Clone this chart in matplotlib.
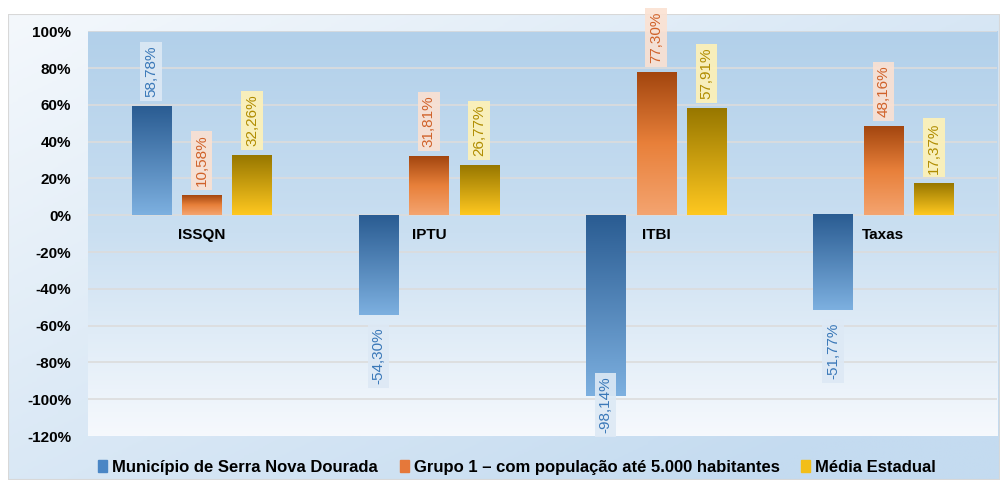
import numpy as np
import matplotlib.pyplot as plt
from matplotlib.colors import LinearSegmentedColormap
from matplotlib.patches import Patch

plt.rcParams['font.family'] = ['Liberation Sans', 'DejaVu Sans']

# dados
categorias = ['ISSQN', 'IPTU', 'ITBI', 'Taxas']
municipio = [58.78, -54.30, -98.14, -51.77]
grupo1 = [10.58, 31.81, 77.30, 48.16]
media_estadual = [32.26, 26.77, 57.91, 17.37]
series_nomes = ['Município de Serra Nova Dourada',
                'Grupo 1 – com população até 5.000 habitantes',
                'Média Estadual']

# cores: (topo escuro, base clara), cor do texto, cor da caixa
grad_cores = [('#2a5c92', '#7db0e0'), ('#a3460f', '#e8803a', '#f4a470'), ('#977700', '#ffc820')]
texto_cores = ['#3a78b8', '#d0622a', '#b08c00']
caixa_cores = ['#dde9f5', '#fbe1d2', '#fff2b6']
legenda_cores = ['#4a86c5', '#e5783a', '#f2be18']

fig = plt.figure(figsize=(10.04, 4.87), dpi=100)
fig.patch.set_facecolor('white')

# moldura externa com degrade
moldura = fig.add_axes([0.008, 0.0144, 0.988, 0.957])
moldura.set_axis_off()
gx = np.linspace(0, 1, 200)[None, :]
gy = np.linspace(0, 1, 200)[:, None]
fundo = np.clip(0.55 * gy + 0.6 * gx, 0, 1)
cm_fundo = LinearSegmentedColormap.from_list('f', ['#f4f8fc', '#c4dbf0'])
moldura.imshow(fundo, cmap=cm_fundo, extent=[0, 1, 0, 1], aspect='auto', origin='upper')
moldura.add_patch(plt.Rectangle((0, 0), 1, 1, transform=moldura.transAxes,
                                fill=False, ec='#d8d8d8', lw=1.5))
moldura.set_xlim(0, 1)
moldura.set_ylim(0, 1)

ax = fig.add_axes([0.0876, 0.1047, 0.9054, 0.831])
ax.set_facecolor('none')
ax.set_xlim(-0.5, len(categorias) - 0.5)
ax.set_ylim(-120, 100)

# fundo da area do grafico
cm_area = LinearSegmentedColormap.from_list('a', ['#b2d0ea', '#cadff1', '#f6f9fd'])
ax.imshow(np.linspace(0, 1, 256)[:, None], cmap=cm_area, aspect='auto',
          extent=[-0.5, len(categorias) - 0.5, -120, 100], origin='upper', zorder=0)

for yv in range(-100, 101, 20):
    ax.axhline(yv, color='#dcdcdc', lw=1.2, zorder=1)

largura = 0.172
passo = 0.222
x = np.arange(len(categorias))
for k, vals in enumerate([municipio, grupo1, media_estadual]):
    cm = LinearSegmentedColormap.from_list('b%d' % k, list(grad_cores[k]))
    barras = ax.bar(x + (k - 1) * passo, vals, width=largura, color='none', zorder=2)
    for b, v in zip(barras, vals):
        x0 = b.get_x()
        topo = max(v, 0)
        base = min(v, 0)
        ax.imshow(np.linspace(0, 1, 256)[:, None], cmap=cm, aspect='auto',
                  extent=[x0, x0 + largura, base, topo], origin='upper', zorder=3)
        rotulo = ('%.2f%%' % v).replace('.', ',')
        xc = x0 + largura / 2
        caixa = dict(boxstyle='square,pad=0.25', fc=caixa_cores[k], ec='none', alpha=0.9)
        estilo = dict(rotation=90, ha='center', fontsize=11, color=texto_cores[k],
                      bbox=caixa, zorder=5, textcoords='offset points')
        if v >= 0:
            ax.annotate(rotulo, (xc, v), xytext=(0, 7), va='bottom',
                        annotation_clip=False, **estilo)
        elif v - 42 < -120:
            ax.annotate(rotulo, (xc, -120), xytext=(0, 2), va='bottom', **estilo)
        else:
            ax.annotate(rotulo, (xc, v), xytext=(0, -9), va='top', **estilo)

for i, c in enumerate(categorias):
    ax.annotate(c, (i, 0), xytext=(0, -14), textcoords='offset points',
                ha='center', va='center', fontsize=11, fontweight='bold', zorder=6)

ax.set_xticks([])
ax.set_yticks(range(-120, 101, 20))
ax.set_yticklabels(['%d%%' % t for t in range(-120, 101, 20)],
                   fontsize=11, fontweight='bold')
ax.tick_params(axis='y', length=0, pad=12)
for s in ax.spines.values():
    s.set_visible(False)

handles = [Patch(color=c) for c in legenda_cores]
fig.legend(handles, series_nomes, loc='center', bbox_to_anchor=(0.515, 0.041),
           ncol=3, frameon=False, handlelength=0.55, handleheight=0.7,
           handletextpad=0.3, columnspacing=1.3,
           prop={'family': ['Liberation Sans Narrow', 'Liberation Sans'],
                 'size': 12, 'weight': 'bold'})

fig.savefig('out.png', dpi=100, facecolor='white')
